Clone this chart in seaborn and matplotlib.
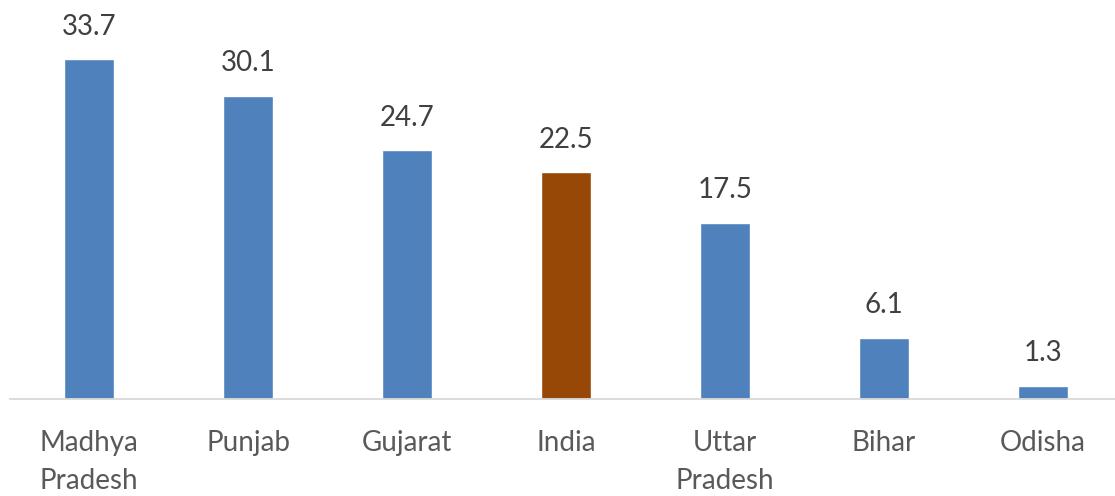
import matplotlib
matplotlib.use("Agg")
import matplotlib.pyplot as plt
import seaborn as sns
import pandas as pd

categories = ["Madhya\nPradesh", "Punjab", "Gujarat", "India", "Uttar\nPradesh", "Bihar", "Odisha"]
values = [33.7, 30.1, 24.7, 22.5, 17.5, 6.1, 1.3]
colors = ["#4F81BD", "#4F81BD", "#4F81BD", "#974706", "#4F81BD", "#4F81BD", "#4F81BD"]

sns.set_theme(style="white")
plt.rcParams["font.family"] = ["Lato", "DejaVu Sans"]

W, H = 1115, 496
fig = plt.figure(figsize=(W / 100, H / 100), dpi=100)
ax = fig.add_axes([9.5 / W, 97 / H, 1113 / W, 383 / H])

df = pd.DataFrame({"cat": categories, "val": values})
sns.barplot(data=df, x="cat", y="val", hue="cat", palette=colors, legend=False,
            width=0.315, ax=ax, saturation=1)

ax.set_xlim(-0.5, 6.5)
ax.set_ylim(0, 38)
ax.set_xlabel("")
ax.set_ylabel("")
ax.set_yticks([])
for s in ["top", "right", "left"]:
    ax.spines[s].set_visible(False)
ax.spines["bottom"].set_color("#D9D9D9")
ax.spines["bottom"].set_linewidth(1.3)
ax.tick_params(axis="x", length=0, pad=22, labelsize=20, labelcolor="#595959")
for lbl in ax.get_xticklabels():
    lbl.set_verticalalignment("top")
    lbl.set_linespacing(1.6)

for c in ax.containers:
    ax.bar_label(c, fmt="%.1f", padding=14, fontsize=20, color="#404040")

fig.savefig("out.png", dpi=100)
